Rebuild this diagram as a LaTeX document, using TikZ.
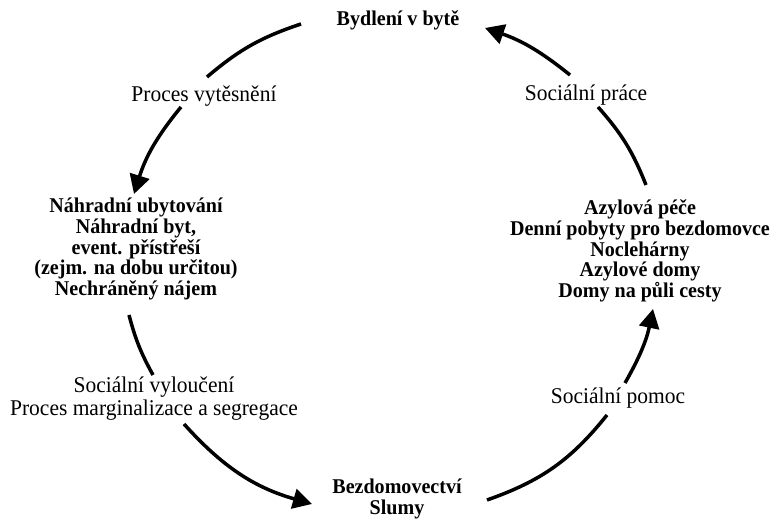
\documentclass[tikz,border=0pt]{standalone}
\usepackage{fontspec}
\setmainfont{Liberation Serif}[FakeStretch=0.955]
\usetikzlibrary{arrows.meta}
\tikzset{
  lab/.style={inner sep=0pt, align=center, font=\fontsize{22.5}{23}\selectfont},
  bold/.style={inner sep=0pt, align=center, font=\fontsize{21}{20.6}\selectfont\bfseries},
  arcline/.style={line width=3.5pt},
  arcarrow/.style={line width=3.5pt, -{Triangle[length=19pt,width=20pt]}}
}
\begin{document}
\begin{tikzpicture}[x=1pt,y=1pt]
\useasboundingbox (0,0) rectangle (776,521);
% nodes
\node[bold] (byt) at (398,501) {Bydlení v bytě};
\node[lab] (vyt) at (204,425) {Proces vytěsnění};
\node[lab] (prace) at (586,426) {Sociální práce};
\node[bold] (nahr) at (136,272) {Náhradní ubytování\\Náhradní byt,\\event. přístřeší\\(zejm. na dobu určitou)\\Nechráněný nájem};
\node[bold] (azyl) at (640,270) {Azylová péče\\Denní pobyty pro bezdomovce\\Noclehárny\\Azylové domy\\Domy na půli cesty};
\node[lab] (vylo) at (154,122.5) {Sociální vyloučení\\Proces marginalizace a segregace};
\node[lab] (pomoc) at (618,123) {Sociální pomoc};
\node[bold] (bezd) at (397,22) {Bezdomovectví\\Slumy};
% arc end points
\coordinate (a1s) at (301,497); \coordinate (a1e) at (207,444);
\coordinate (a2s) at (181,414); \coordinate (a2e) at (134,327);
\coordinate (a3s) at (129,206); \coordinate (a3e) at (153,146);
\coordinate (a4s) at (184,97);  \coordinate (a4e) at (312,17);
\coordinate (a5s) at (487,21);  \coordinate (a5e) at (607,106);
\coordinate (a6s) at (625,138); \coordinate (a6e) at (653,212);
\coordinate (a7s) at (646,336); \coordinate (a7e) at (598,414);
\coordinate (a8s) at (570,446); \coordinate (a8e) at (485,493);
% arcs
\draw[arcline] (a1s) to[bend right=11] (a1e);
\draw[arcarrow] (a2s) to[bend right=11] (a2e);
\draw[arcline] (a3s) to[bend right=7] (a3e);
\draw[arcarrow] (a4s) to[bend right=16] (a4e);
\draw[arcline] (a5s) to[bend right=16] (a5e);
\draw[arcarrow] (a6s) to[bend right=9] (a6e);
\draw[arcline] (a7s) to[bend right=10] (a7e);
\draw[arcarrow] (a8s) to[bend right=10] (a8e);
\end{tikzpicture}
\end{document}
